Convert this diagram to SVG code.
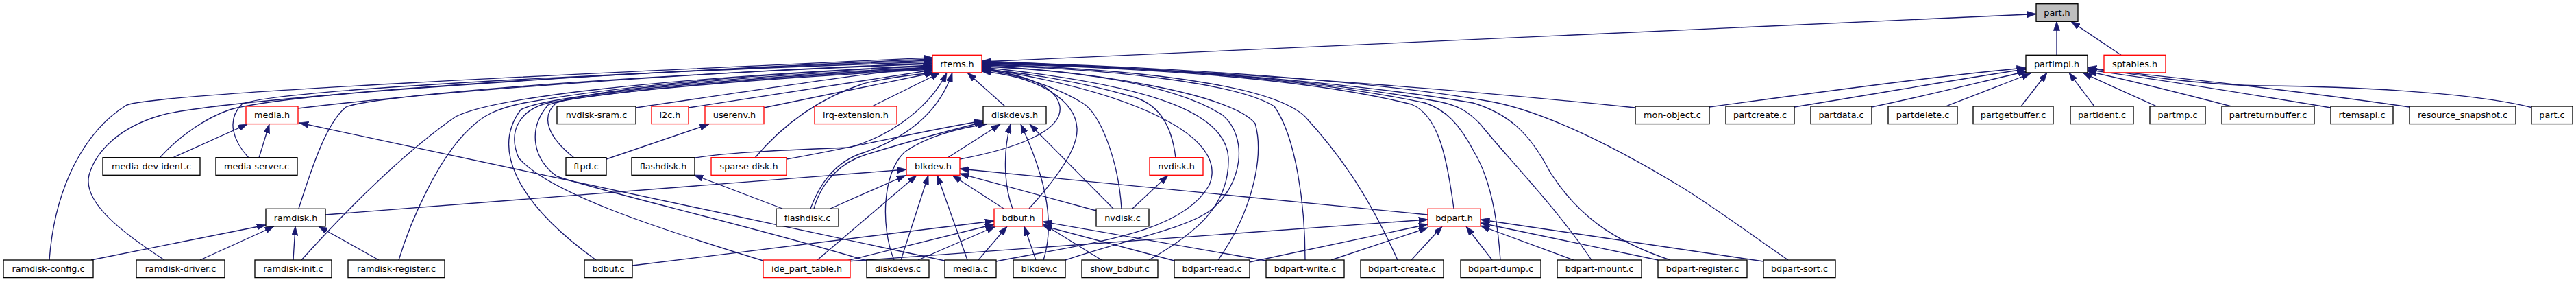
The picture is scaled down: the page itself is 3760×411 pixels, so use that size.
<svg xmlns="http://www.w3.org/2000/svg" width="3760" height="411" viewBox="0 0 3760 411">
<style>
.n rect{fill:#fff;stroke:#000;stroke-width:1.33}
.n.r rect{stroke:#f00}
.n.g rect{fill:#bfbfbf}
.n text{font-family:"DejaVu Sans","Liberation Sans",sans-serif;font-size:12.8px;text-anchor:middle;fill:#000}
#edges path{fill:none;stroke:#191970;stroke-width:1.33;marker-end:url(#a)}
</style>
<defs>
<marker id="a" viewBox="0 0 10 7" refX="10" refY="3.5" markerWidth="13.3" markerHeight="9.3" markerUnits="userSpaceOnUse" orient="auto">
<path d="M0,0 L10,3.5 L0,7 z" fill="#191970" stroke="#191970" stroke-width="0.5"/>
</marker>
</defs>
<rect width="3760" height="411" fill="#fff"/>
<g id="edges">
<path d="M1433,90 L2972,20.5"/>
<path d="M3002,80.3 L3002,31.3"/>
<path d="M3096,80.3 L3023,31.3"/>
<path d="M2495,156 C2650,135 2850,108 2957,99"/>
<path d="M2619,156 C2750,135 2900,108 2957,101"/>
<path d="M2732,156 C2820,138 2920,112 2959,104"/>
<path d="M2840,155 C2880,140 2930,120 2964,107"/>
<path d="M2950,155 L2988,106"/>
<path d="M3057,155 L3020,106"/>
<path d="M3148,155 C3110,138 3070,120 3040,106"/>
<path d="M3257,155 C3180,135 3100,115 3047,104"/>
<path d="M3402,157 C3300,140 3150,115 3047,102"/>
<path d="M3517,156 C3420,142 3250,120 3047,100"/>
<path d="M3697,157 C3600,133 3420,126 3300,125 C3200,123 3110,108 3047,98"/>
<path d="M72,379 C80,270 125,190 185,153 C235,135 900,105 1361,84"/>
<path d="M240,379 C180,340 120,295 130,255 C140,220 175,185 235,168 C300,150 700,115 1361,86"/>
<path d="M233,230 C262,198 300,172 335,160 C420,135 850,108 1361,88"/>
<path d="M363,230 C340,205 330,175 353,152 C390,132 850,108 1361,90"/>
<path d="M435,158 C600,138 950,108 1361,92"/>
<path d="M436,304 C458,235 478,178 505,156 C535,143 800,115 1361,93"/>
<path d="M440,379 C520,290 600,215 665,170 C720,142 950,115 1361,95"/>
<path d="M582,379 C600,320 640,230 685,188 C705,168 725,158 765,150 C900,125 1100,108 1361,96"/>
<path d="M928,157 C1100,132 1250,108 1361,97"/>
<path d="M838,230 C800,200 788,170 812,150 C860,130 1100,110 1361,98"/>
<path d="M870,379 C760,300 715,220 760,160 C800,137 1100,112 1361,99"/>
<path d="M1114,380 C950,330 800,280 757,230 C740,190 760,160 800,150 C950,125 1200,108 1361,100"/>
<path d="M1265,380 C1100,330 880,280 813,257 C780,235 768,190 800,153 C850,132 1200,110 1361,101"/>
<path d="M1005,157 L1361,102"/>
<path d="M1115,157 L1363,106"/>
<path d="M1273,155 L1372,106"/>
<path d="M1102,230 C1140,185 1190,145 1260,122 C1300,112 1340,108 1366,106"/>
<path d="M1015,230 C1060,222 1160,218 1240,215 C1310,195 1360,150 1382,106"/>
<path d="M1183,304 C1200,258 1228,232 1262,222 C1330,198 1372,160 1390,106"/>
<path d="M1467,155 L1412,106"/>
<path d="M1401,232 C1480,217 1552,192 1547,155 C1540,120 1480,106 1433,102"/>
<path d="M1502,304 C1535,268 1574,220 1572,187 C1570,148 1520,112 1433,104"/>
<path d="M1716,230 C1710,180 1690,150 1650,140 C1580,120 1500,106 1433,101"/>
<path d="M1637,304 C1632,230 1605,165 1580,150 C1540,125 1480,108 1433,100"/>
<path d="M1454,381 C1600,352 1725,340 1765,270 C1795,200 1660,135 1433,99"/>
<path d="M1677,379 C1745,340 1795,300 1793,230 C1790,170 1700,125 1433,98"/>
<path d="M1555,379 C1640,350 1725,335 1765,308 C1815,270 1822,200 1785,168 C1710,120 1560,102 1433,97"/>
<path d="M1778,379 C1830,305 1845,225 1832,180 C1800,138 1600,104 1433,96"/>
<path d="M1905,379 C1905,300 1892,200 1860,155 C1800,118 1600,100 1433,95"/>
<path d="M2040,379 C2000,290 1960,230 1905,170 C1855,122 1650,100 1433,94"/>
<path d="M2122,304 C2112,230 2100,168 2060,152 C1900,112 1650,98 1433,93"/>
<path d="M2190,379 C2186,320 2176,262 2152,222 C2130,180 2110,160 2080,150 C1900,112 1650,97 1433,92"/>
<path d="M2323,379 C2270,300 2200,230 2160,180 C2140,160 2128,154 2100,148 C1900,112 1650,96 1433,92"/>
<path d="M2438,379 C2350,350 2300,310 2262,250 C2232,192 2200,165 2150,150 C1950,116 1650,96 1433,91"/>
<path d="M2610,379 C2560,345 2500,300 2450,270 C2350,210 2250,160 2170,147 C2000,117 1700,97 1433,90"/>
<path d="M2387,157 C2100,127 1800,105 1433,89"/>
<path d="M252,230 L361,181"/>
<path d="M378,230 L393,181"/>
<path d="M1379,380 L437,179"/>
<path d="M133,379 L388,328"/>
<path d="M292,379 L400,330"/>
<path d="M428,379 L431,330"/>
<path d="M553,379 L465,330"/>
<path d="M475,313 L1323,247"/>
<path d="M885,232 L1035,181"/>
<path d="M1142,304 L1013,255"/>
<path d="M1212,304 L1322,255.5"/>
<path d="M1193,379 L1338,255.5"/>
<path d="M1188,304 C1200,262 1230,236 1262,226 C1320,208 1400,186 1436,178"/>
<path d="M1148,232 C1250,214 1350,190 1435,176"/>
<path d="M1305,379 C1285,330 1288,252 1320,222 C1350,200 1400,186 1440,181"/>
<path d="M1315,379 L1355,255.5"/>
<path d="M1340,379 L1453,330"/>
<path d="M1412,379 L1368,255.5"/>
<path d="M1428,379 L1470,330"/>
<path d="M1383,230 L1460,181"/>
<path d="M1478,304 C1465,270 1464,220 1475,181"/>
<path d="M1465,304 L1390,255.5"/>
<path d="M1512,379 L1495,330"/>
<path d="M1523,379 C1542,320 1522,250 1490,181"/>
<path d="M1625,304 L1503,181"/>
<path d="M1653,304 L1705,255.5"/>
<path d="M1600,307 L1401,253"/>
<path d="M2084,313 L1401,246"/>
<path d="M923,387 L1451,322"/>
<path d="M1236,380 L1451,327"/>
<path d="M1236,381 L2084,320"/>
<path d="M1608,379 L1522,326"/>
<path d="M1714,380 L1522,329"/>
<path d="M1848,380 L1522,323"/>
<path d="M1824,382 L2084,327"/>
<path d="M1943,379 L2084,332"/>
<path d="M2060,379 L2105,330"/>
<path d="M2178,379 L2140,330"/>
<path d="M2297,379 L2161,329"/>
<path d="M2420,379 L2161,325"/>
<path d="M2574,381 L2161,320"/>
</g>
<g id="part_h" class="n g"><rect x="2972" y="5.7" width="61" height="25.6"/><text x="3002.5" y="23">part.h</text></g>
<g id="rtems_h" class="n r"><rect x="1361" y="80.3" width="72" height="25.6"/><text x="1397" y="97.6">rtems.h</text></g>
<g id="partimpl_h" class="n"><rect x="2957" y="80.3" width="90" height="25.6"/><text x="3002" y="97.6">partimpl.h</text></g>
<g id="sptables_h" class="n r"><rect x="3071" y="80.3" width="90" height="25.6"/><text x="3116" y="97.6">sptables.h</text></g>
<g id="media_h" class="n r"><rect x="359" y="155" width="76" height="25.6"/><text x="397" y="172.3">media.h</text></g>
<g id="nvdisk_sram_c" class="n"><rect x="813" y="155" width="115" height="25.6"/><text x="870.5" y="172.3">nvdisk-sram.c</text></g>
<g id="i2c_h" class="n r"><rect x="951" y="155" width="54" height="25.6"/><text x="978" y="172.3">i2c.h</text></g>
<g id="userenv_h" class="n r"><rect x="1029" y="155" width="86" height="25.6"/><text x="1072" y="172.3">userenv.h</text></g>
<g id="irq_extension_h" class="n r"><rect x="1189" y="155" width="120" height="25.6"/><text x="1249" y="172.3">irq-extension.h</text></g>
<g id="diskdevs_h" class="n"><rect x="1435" y="155" width="92" height="25.6"/><text x="1481" y="172.3">diskdevs.h</text></g>
<g id="mon_object_c" class="n"><rect x="2387" y="155" width="108" height="25.6"/><text x="2441" y="172.3">mon-object.c</text></g>
<g id="partcreate_c" class="n"><rect x="2519" y="155" width="100" height="25.6"/><text x="2569" y="172.3">partcreate.c</text></g>
<g id="partdata_c" class="n"><rect x="2643" y="155" width="89" height="25.6"/><text x="2687.5" y="172.3">partdata.c</text></g>
<g id="partdelete_c" class="n"><rect x="2756" y="155" width="101" height="25.6"/><text x="2806.5" y="172.3">partdelete.c</text></g>
<g id="partgetbuffer_c" class="n"><rect x="2880" y="155" width="117" height="25.6"/><text x="2938.5" y="172.3">partgetbuffer.c</text></g>
<g id="partident_c" class="n"><rect x="3022" y="155" width="92" height="25.6"/><text x="3068" y="172.3">partident.c</text></g>
<g id="partmp_c" class="n"><rect x="3138" y="155" width="81" height="25.6"/><text x="3178.5" y="172.3">partmp.c</text></g>
<g id="partreturnbuffer_c" class="n"><rect x="3243" y="155" width="135" height="25.6"/><text x="3310.5" y="172.3">partreturnbuffer.c</text></g>
<g id="rtemsapi_c" class="n"><rect x="3402" y="155" width="91" height="25.6"/><text x="3447.5" y="172.3">rtemsapi.c</text></g>
<g id="resource_snapshot_c" class="n"><rect x="3517" y="155" width="155" height="25.6"/><text x="3594.5" y="172.3">resource_snapshot.c</text></g>
<g id="part_c" class="n"><rect x="3695" y="155" width="60" height="25.6"/><text x="3725" y="172.3">part.c</text></g>
<g id="media_dev_ident_c" class="n"><rect x="150" y="229.7" width="142" height="25.6"/><text x="221" y="247">media-dev-ident.c</text></g>
<g id="media_server_c" class="n"><rect x="315" y="229.7" width="119" height="25.6"/><text x="374.5" y="247">media-server.c</text></g>
<g id="ftpd_c" class="n"><rect x="826" y="229.7" width="59" height="25.6"/><text x="855.5" y="247">ftpd.c</text></g>
<g id="flashdisk_h" class="n"><rect x="922" y="229.7" width="92" height="25.6"/><text x="968" y="247">flashdisk.h</text></g>
<g id="sparse_disk_h" class="n r"><rect x="1038" y="229.7" width="110" height="25.6"/><text x="1093" y="247">sparse-disk.h</text></g>
<g id="blkdev_h" class="n r"><rect x="1323" y="229.7" width="78" height="25.6"/><text x="1362" y="247">blkdev.h</text></g>
<g id="nvdisk_h" class="n r"><rect x="1678" y="229.7" width="78" height="25.6"/><text x="1717" y="247">nvdisk.h</text></g>
<g id="ramdisk_h" class="n"><rect x="388" y="304.3" width="87" height="25.6"/><text x="431.5" y="321.6">ramdisk.h</text></g>
<g id="flashdisk_c" class="n"><rect x="1133" y="304.3" width="91" height="25.6"/><text x="1178.5" y="321.6">flashdisk.c</text></g>
<g id="bdbuf_h" class="n r"><rect x="1451" y="304.3" width="71" height="25.6"/><text x="1486.5" y="321.6">bdbuf.h</text></g>
<g id="nvdisk_c" class="n"><rect x="1600" y="304.3" width="77" height="25.6"/><text x="1638.5" y="321.6">nvdisk.c</text></g>
<g id="bdpart_h" class="n r"><rect x="2084" y="304.3" width="77" height="25.6"/><text x="2122.5" y="321.6">bdpart.h</text></g>
<g id="ramdisk_config_c" class="n"><rect x="5" y="379" width="131" height="25.6"/><text x="70.5" y="396.3">ramdisk-config.c</text></g>
<g id="ramdisk_driver_c" class="n"><rect x="199" y="379" width="129" height="25.6"/><text x="263.5" y="396.3">ramdisk-driver.c</text></g>
<g id="ramdisk_init_c" class="n"><rect x="372" y="379" width="112" height="25.6"/><text x="428" y="396.3">ramdisk-init.c</text></g>
<g id="ramdisk_register_c" class="n"><rect x="508" y="379" width="141" height="25.6"/><text x="578.5" y="396.3">ramdisk-register.c</text></g>
<g id="bdbuf_c" class="n"><rect x="853" y="379" width="70" height="25.6"/><text x="888" y="396.3">bdbuf.c</text></g>
<g id="ide_part_table_h" class="n r"><rect x="1114" y="379" width="127" height="25.6"/><text x="1177.5" y="396.3">ide_part_table.h</text></g>
<g id="diskdevs_c" class="n"><rect x="1265" y="379" width="91" height="25.6"/><text x="1310.5" y="396.3">diskdevs.c</text></g>
<g id="media_c" class="n"><rect x="1379" y="379" width="75" height="25.6"/><text x="1416.5" y="396.3">media.c</text></g>
<g id="blkdev_c" class="n"><rect x="1479" y="379" width="76" height="25.6"/><text x="1517" y="396.3">blkdev.c</text></g>
<g id="show_bdbuf_c" class="n"><rect x="1579" y="379" width="111" height="25.6"/><text x="1634.5" y="396.3">show_bdbuf.c</text></g>
<g id="bdpart_read_c" class="n"><rect x="1714" y="379" width="110" height="25.6"/><text x="1769" y="396.3">bdpart-read.c</text></g>
<g id="bdpart_write_c" class="n"><rect x="1848" y="379" width="114" height="25.6"/><text x="1905" y="396.3">bdpart-write.c</text></g>
<g id="bdpart_create_c" class="n"><rect x="1986" y="379" width="121" height="25.6"/><text x="2046.5" y="396.3">bdpart-create.c</text></g>
<g id="bdpart_dump_c" class="n"><rect x="2132" y="379" width="117" height="25.6"/><text x="2190.5" y="396.3">bdpart-dump.c</text></g>
<g id="bdpart_mount_c" class="n"><rect x="2273" y="379" width="123" height="25.6"/><text x="2334.5" y="396.3">bdpart-mount.c</text></g>
<g id="bdpart_register_c" class="n"><rect x="2420" y="379" width="130" height="25.6"/><text x="2485" y="396.3">bdpart-register.c</text></g>
<g id="bdpart_sort_c" class="n"><rect x="2574" y="379" width="105" height="25.6"/><text x="2626.5" y="396.3">bdpart-sort.c</text></g>
</svg>
